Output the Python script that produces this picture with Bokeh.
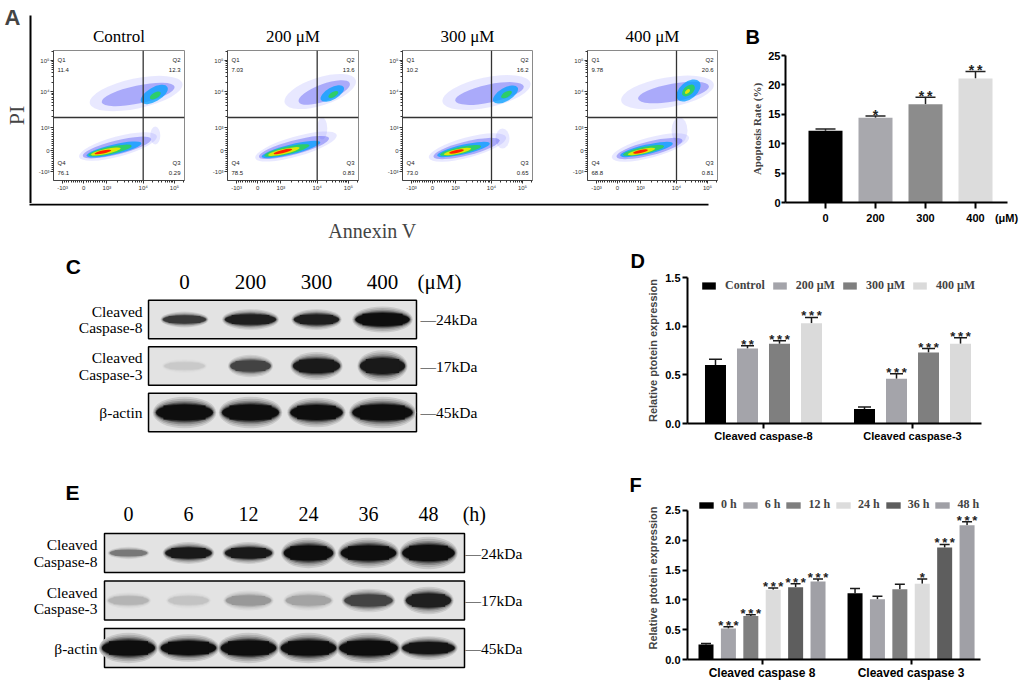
import math
from bokeh.plotting import figure
from bokeh.layouts import row, column
from bokeh.models import (Range1d, FixedTicker, Label, Legend, LegendItem,
                          ColumnDataSource, Whisker, TeeHead, Span, PrintfTickFormatter)
from bokeh.core.properties import value
from bokeh.embed import file_html
from bokeh.resources import INLINE

SERIF = "Liberation Serif"
SANS = "Liberation Sans"
THIN = "\u2009"

# ============================ DATA ============================
# A - flow cytometry, Annexin V / PI quadrant percentages
flow_titles = ["Control", "200 μM", "300 μM", "400 μM"]
flow_q1 = ["11.4", "7.03", "10.2", "9.78"]
flow_q2 = ["12.3", "13.6", "16.2", "20.6"]
flow_q3 = ["0.29", "0.83", "0.65", "0.81"]
flow_q4 = ["76.1", "78.5", "73.0", "68.8"]
flow_tick_labels = ["-10³", "0", "10³", "10⁴", "10⁵"]
flow_tick_disp = [9, 30, 53, 89, 120]          # biexponential display units (0..130)
flow_gate_x = 89
flow_gate_y = 63
# density clouds: (cx, cy, length, thickness, angle, density level)
flow_clouds_ctrl = [
    (64, 34, 80, 20, 15, 0), (63, 33, 70, 14, 14, 1), (60, 31, 56, 10, 13, 2),
    (56, 30, 44, 7.5, 12, 3), (52, 29, 30, 5, 12, 4), (49, 28.5, 17, 3.2, 12, 5),
    (82, 87, 94, 30, 12, 0), (84, 86, 74, 18, 12, 1), (100, 86, 30, 14, 30, 2),
    (101, 85, 12, 6, 30, 3), (101, 45, 10, 18, 0, 0)]
flow_clouds_200 = [
    (68, 34, 84, 20, 16, 0), (66, 33, 72, 14, 15, 1), (63, 31, 60, 10, 14, 2),
    (59, 30, 46, 7.5, 13, 3), (56, 29, 32, 5, 13, 4), (55, 29, 19, 3.2, 13, 5),
    (92, 89, 74, 28, 18, 0), (96, 88, 54, 17, 20, 1), (104, 87, 26, 12, 30, 2),
    (105, 86, 11, 5, 30, 3), (94, 52, 10, 22, 0, 0)]
flow_clouds_300 = [
    (65, 33, 80, 20, 15, 0), (64, 32, 68, 14, 14, 1), (61, 31, 54, 9.5, 13, 2),
    (58, 30, 42, 7, 12, 3), (55, 29, 28, 4.8, 12, 4), (54, 29, 15, 3, 12, 5),
    (84, 88, 90, 30, 12, 0), (87, 87, 70, 18, 12, 1), (103, 86, 28, 13, 30, 2),
    (104, 86, 12, 5.5, 30, 3), (100, 42, 14, 20, 0, 0)]
flow_clouds_400 = [
    (63, 33, 80, 20, 15, 0), (62, 32, 68, 14, 14, 1), (59, 31, 54, 9.5, 13, 2),
    (56, 30, 42, 7, 12, 3), (54, 29, 28, 4.8, 12, 4), (53, 29, 15, 3, 12, 5),
    (80, 88, 94, 30, 10, 0), (86, 88, 72, 18, 10, 1), (101, 90, 28, 17, 40, 2),
    (101, 90, 15, 9, 40, 3), (100, 89, 6, 3.5, 40, 4), (92, 50, 16, 26, 0, 0)]
flow_clouds = [flow_clouds_ctrl, flow_clouds_200, flow_clouds_300, flow_clouds_400]
density_colors = ["#7070ff", "#2828f0", "#00a0ff", "#2ed25a", "#e8e800", "#ff2000"]
density_alpha = [0.16, 0.32, 0.75, 0.90, 0.95, 1.0]

# B - apoptosis rate
b_cats = ["0", "200", "300", "400"]
b_unit = "(μM)"
b_mean = [12.2, 14.4, 16.7, 21.1]
b_upper = [12.5, 14.7, 17.9, 22.3]
b_stars = ["", "*", "**", "**"]
b_colors = ["#000000", "#a8a8ad", "#8c8c8c", "#dcdcdc"]

# C - western blot (dose)
c_lanes = ["0", "200", "300", "400"]
c_unit = "(μM)"
c_rows = ["Cleaved\nCaspase-8", "Cleaved\nCaspase-3", "β-actin"]
c_kda = ["—24kDa", "—17kDa", "—45kDa"]
c_intensity = [[0.80, 0.92, 0.92, 1.0], [0.12, 0.75, 0.95, 0.95], [1.0, 1.0, 1.0, 1.0]]
c_band_w = [[0.65, 0.77, 0.68, 0.82], [0.61, 0.61, 0.71, 0.68], [0.86, 0.86, 0.79, 0.91]]
c_band_h = [[0.17, 0.22, 0.22, 0.28], [0.15, 0.24, 0.30, 0.34], [0.34, 0.34, 0.32, 0.34]]

# D - relative protein expression (dose)
d_groups = ["Cleaved caspase-8", "Cleaved caspase-3"]
d_series = ["Control", "200 μM", "300 μM", "400 μM"]
d_casp8 = [0.60, 0.77, 0.82, 1.03]
d_casp8_up = [0.66, 0.80, 0.85, 1.09]
d_casp3 = [0.15, 0.46, 0.73, 0.82]
d_casp3_up = [0.17, 0.51, 0.77, 0.88]
d_stars8 = ["", "**", "***", "***"]
d_stars3 = ["", "***", "***", "***"]
d_colors = ["#000000", "#a4a4aa", "#7f7f7f", "#dadada"]

# E - western blot (time)
e_lanes = ["0", "6", "12", "24", "36", "48"]
e_unit = "(h)"
e_rows = ["Cleaved\nCaspase-8", "Cleaved\nCaspase-3", "β-actin"]
e_kda = ["—24kDa", "—17kDa", "—45kDa"]
e_intensity = [[0.50, 0.95, 0.95, 1.0, 1.0, 1.0],
               [0.22, 0.15, 0.35, 0.30, 0.75, 0.92],
               [1.0, 1.0, 1.0, 1.0, 1.0, 0.97]]
e_band_w = [[0.62, 0.77, 0.78, 0.82, 0.92, 0.87],
            [0.67, 0.67, 0.75, 0.75, 0.80, 0.75],
            [0.88, 0.92, 0.92, 0.92, 0.97, 0.87]]
e_band_h = [[0.13, 0.23, 0.23, 0.32, 0.32, 0.34],
            [0.17, 0.17, 0.21, 0.21, 0.25, 0.29],
            [0.32, 0.29, 0.32, 0.32, 0.32, 0.25]]

# F - relative protein expression (time)
f_groups = ["Cleaved caspase 8", "Cleaved caspase 3"]
f_series = ["0 h", "6 h", "12 h", "24 h", "36 h", "48 h"]
f_casp8 = [0.25, 0.52, 0.73, 1.17, 1.21, 1.31]
f_casp8_up = [0.27, 0.55, 0.75, 1.20, 1.27, 1.35]
f_casp3 = [1.11, 1.01, 1.18, 1.27, 1.88, 2.25]
f_casp3_up = [1.19, 1.06, 1.26, 1.35, 1.93, 2.31]
f_stars8 = ["", "***", "***", "***", "***", "***"]
f_stars3 = ["", "", "", "*", "***", "***"]
f_colors = ["#000000", "#a4a4aa", "#7f7f7f", "#dcdcdc", "#5e5e5e", "#a0a0a6"]


# ============================ HELPERS ============================
def make_fig(**kw):
    return figure(title=None, toolbar_location=None, output_backend="svg",
                  frame_align=False, **kw)


def blank_fig(width, height, xr=None, yr=None):
    if xr is None:
        xr = Range1d(0, width)
    if yr is None:
        yr = Range1d(0, height)
    p = make_fig(width=width, height=height, x_range=xr, y_range=yr, min_border=0,
                 x_axis_location=None, y_axis_location=None)
    p.outline_line_color = None
    p.grid.visible = False
    return p


def letter_label(x, y, text, size="21px"):
    return Label(x=x, y=y, text=text, text_align="left", text_baseline="middle",
                 text_font=SANS, text_font_style="bold", text_font_size=size,
                 text_color="black")


def grey_hex(I, base=227, dark=14):
    v = int(round(base - (base - dark) * I))
    return "#%02x%02x%02x" % (v, v, v)


def style_bar_axes(p, tick_size):
    for ax in (p.xaxis[0], p.yaxis[0]):
        ax.axis_line_width = 2
        ax.axis_line_color = "black"
        ax.major_tick_line_width = 2
        ax.major_tick_line_color = "black"
        ax.major_tick_in = 0
        ax.minor_tick_line_color = None
        ax.major_label_text_font = SANS
        ax.major_label_text_font_style = "bold"
        ax.major_label_text_font_size = tick_size
        ax.major_label_text_color = "black"
    p.grid.visible = False
    p.outline_line_color = None


# ============================ PANEL A ============================
def flow_minor_ticks():
    t = []
    for v in range(-900, 0, 100):
        t.append(30 + v / 1000 * 21)
    for v in range(100, 1000, 100):
        t.append(30 + v / 1000 * 23)
    for m in range(2, 10):
        t.append(53 + 36 * math.log10(m))
    for m in range(2, 10):
        t.append(89 + 31 * math.log10(m))
    t.append(120 + 31 * math.log10(2))
    return t


FLOW_W = [174, 175, 185, 159]
FLOW_FRAME = [131, 131, 130, 130]
FLOW_L = 21
flow_figs = []
for i in range(4):
    W = FLOW_W[i]
    R = W - FLOW_L - FLOW_FRAME[i]
    p = make_fig(width=W, height=155, x_range=Range1d(0, 130), y_range=Range1d(0, 130),
                 min_border_left=FLOW_L, min_border_right=R, min_border_top=2, min_border_bottom=23)
    p.grid.visible = False
    p.outline_line_color = "#8a8a8a"
    p.outline_line_width = 1
    for ax in (p.xaxis[0], p.yaxis[0]):
        ax.ticker = FixedTicker(ticks=flow_tick_disp, minor_ticks=flow_minor_ticks())
        ax.major_label_overrides = {t: l for t, l in zip(flow_tick_disp, flow_tick_labels)}
        ax.axis_line_color = "#444444"
        ax.major_tick_line_color = "#333333"
        ax.minor_tick_line_color = "#333333"
        ax.major_tick_out = 3
        ax.major_tick_in = 0
        ax.minor_tick_out = 2
        ax.minor_tick_in = 0
        ax.major_label_text_font = SANS
        ax.major_label_text_font_size = "6px"
        ax.major_label_text_color = "#333333"
        ax.major_label_standoff = 1
    clouds = sorted(flow_clouds[i], key=lambda c: c[5])
    src = ColumnDataSource(dict(
        x=[c[0] for c in clouds], y=[c[1] for c in clouds],
        w=[c[2] for c in clouds], h=[c[3] for c in clouds], a=[c[4] for c in clouds],
        color=[density_colors[c[5]] for c in clouds], alpha=[density_alpha[c[5]] for c in clouds]))
    p.ellipse(x="x", y="y", width="w", height="h", angle="a", angle_units="deg",
              fill_color="color", fill_alpha="alpha", line_color=None, source=src)
    p.add_layout(Span(location=flow_gate_x, dimension="height", line_color="#333333", line_width=1.3))
    p.add_layout(Span(location=flow_gate_y, dimension="width", line_color="#333333", line_width=1.3))
    p.text(x=[4, 4, 4, 4], y=[121, 111, 18, 8],
           text=["Q1", flow_q1[i], "Q4", flow_q4[i]],
           text_align="left", text_baseline="middle", text_font=value(SANS),
           text_font_size="6px", text_color="#222222")
    p.text(x=[126, 126, 126, 126], y=[121, 111, 18, 8],
           text=["Q2", flow_q2[i], "Q3", flow_q3[i]],
           text_align="right", text_baseline="middle", text_font=value(SANS),
           text_font_size="6px", text_color="#222222")
    flow_figs.append(p)

# titles strip above the four dot plots (centred on each plot frame)
title_strip = blank_fig(sum(FLOW_W), 48)
x0 = 0
title_x = []
for i in range(4):
    title_x.append(x0 + FLOW_L + FLOW_FRAME[i] / 2)
    x0 += FLOW_W[i]
title_strip.text(x=title_x, y=[12] * 4, text=flow_titles, text_align="center",
                 text_baseline="middle", text_font=value(SERIF), text_font_size="17px",
                 text_color="black")

a_left = blank_fig(32, 203)
a_left.segment(x0=[30], y0=[0], x1=[30], y1=[188], line_width=2, line_color="black")
a_left.add_layout(Label(x=4, y=199, text="A", text_align="left", text_baseline="top",
                        text_font=SANS, text_font_style="bold", text_font_size="22px"))
a_left.add_layout(Label(x=16, y=88, text="PI", angle=math.pi / 2, text_align="center",
                        text_baseline="middle", text_font=SERIF, text_font_size="22px"))

a_bottom = blank_fig(32 + sum(FLOW_W), 40)
a_bottom.segment(x0=[29], y0=[39], x1=[708], y1=[39], line_width=2, line_color="black")
a_bottom.add_layout(Label(x=372, y=13, text="Annexin V", text_align="center",
                          text_baseline="middle", text_font=SERIF, text_font_size="20px"))

panel_a = column(row(a_left, column(title_strip, row(*flow_figs))), a_bottom)

# ============================ PANEL B ============================
b_top = blank_fig(295, 49)
b_top.add_layout(letter_label(20, 12.5, "B", "20px"))

pB = make_fig(width=295, height=194, x_range=Range1d(-0.8, 3.64), y_range=Range1d(0, 25),
              min_border_left=60, min_border_right=13, min_border_top=6, min_border_bottom=41)
style_bar_axes(pB, "11px")
b_x = list(range(len(b_cats)))
pB.vbar(x=b_x, top=b_mean, width=0.68, fill_color=b_colors, line_color=None)
pB.add_layout(Whisker(source=ColumnDataSource(dict(x=b_x, lo=b_mean, up=b_upper)),
                      base="x", lower="lo", upper="up", dimension="height",
                      line_color="#222222", line_width=1.5,
                      upper_head=TeeHead(size=20, line_color="#222222", line_width=1.5),
                      lower_head=None))
b_ppu = 147 / 25
pB.text(x=b_x, y=[u + 1.5 / b_ppu for u in b_upper], text=[THIN.join(s) for s in b_stars],
        text_align="center", text_baseline="alphabetic", text_font=value(SANS),
        text_font_style="bold", text_font_size="14px", text_color="#222222")
b_unit_pos = 3.62
pB.xaxis.ticker = FixedTicker(ticks=b_x + [b_unit_pos], minor_ticks=b_x)
pB.xaxis.major_label_overrides = {**{i: c for i, c in enumerate(b_cats)}, b_unit_pos: b_unit}
pB.xaxis.major_tick_line_color = None
pB.xaxis.major_tick_out = 6
pB.xaxis.minor_tick_line_color = "black"
pB.xaxis.minor_tick_line_width = 2
pB.xaxis.minor_tick_out = 6
pB.xaxis.minor_tick_in = 0
pB.xaxis.major_label_standoff = 3
pB.yaxis.ticker = FixedTicker(ticks=[0, 5, 10, 15, 20, 25])
pB.yaxis.major_tick_out = 4
pB.yaxis.major_label_standoff = 1
pB.yaxis.axis_label = "Apoptosis Rate (%)"
pB.yaxis.axis_label_text_font = SERIF
pB.yaxis.axis_label_text_font_style = "bold"
pB.yaxis.axis_label_text_font_size = "11px"
pB.yaxis.axis_label_standoff = 2

panel_b = column(b_top, pB)


# ============================ BLOTS ============================
def blot_panel(width, height, lane_px0, lane_dx, row_px0, row_dy, lanes, unit, row_names, kdas,
               inten, bw, bh, box_l, box_r, half, header_r, header_size, label_x, kda_x,
               unit_x, letter, letter_x, letter_r):
    xr = Range1d((0 - lane_px0) / lane_dx, (width - lane_px0) / lane_dx)
    yr = Range1d(start=(height - row_px0) / row_dy, end=(0 - row_px0) / row_dy)
    p = blank_fig(width, height, xr, yr)
    nl, nr = len(lanes), len(row_names)
    ridx = list(range(nr))
    p.quad(left=[box_l] * nr, right=[nl - 1 + box_r] * nr,
           top=[r - half for r in ridx], bottom=[r + half for r in ridx],
           fill_color="#e3e3e3", line_color="black", line_width=1.5)
    # soft band edges: concentric layers, lighter and larger outward
    layers = [(1.12, 2.00, 0.12), (1.09, 1.75, 0.25), (1.06, 1.50, 0.42),
              (1.03, 1.30, 0.62), (1.01, 1.15, 0.82)]
    for sw, sh, f in layers:
        xs, ys, ws, hs, cs = [], [], [], [], []
        for r in ridx:
            for i in range(nl):
                xs.append(i); ys.append(r)
                ws.append(bw[r][i] * sw); hs.append(bh[r][i] * sh)
                cs.append(grey_hex(f * inten[r][i]))
        p.ellipse(x=xs, y=ys, width=ws, height=hs, fill_color=cs, line_color=None)
    bx, by, bww, bhh, bc = [], [], [], [], []
    for r in ridx:
        for i in range(nl):
            bx.append(i); by.append(r); bww.append(bw[r][i]); bhh.append(bh[r][i])
            bc.append(grey_hex(inten[r][i]))
    p.ellipse(x=bx, y=by, width=bww, height=bhh, fill_color=bc, line_color=None)
    p.rect(x=bx, y=by, width=[w * 0.74 for w in bww], height=[h * 0.9 for h in bhh],
           fill_color=bc, line_color=None)
    p.text(x=list(range(nl)), y=[header_r] * nl, text=lanes, text_align="center",
           text_baseline="middle", text_font=value(SERIF), text_font_size=header_size,
           text_color="black")
    p.text(x=[unit_x], y=[header_r], text=[unit], text_align="left", text_baseline="middle",
           text_font=value(SERIF), text_font_size=header_size, text_color="black")
    p.text(x=[label_x] * nr, y=ridx, text=row_names, text_align="right", text_baseline="middle",
           text_font=value(SERIF), text_font_size="15.5px", text_line_height=0.95,
           text_color="black")
    p.text(x=[kda_x] * nr, y=ridx, text=kdas, text_align="left", text_baseline="middle",
           text_font=value(SERIF), text_font_size="15.5px", text_color="black")
    p.text(x=[letter_x], y=[letter_r], text=[letter], text_align="left", text_baseline="middle",
           text_font=value(SANS), text_font_style="bold", text_font_size="21px", text_color="black")
    return p


pC = blot_panel(628, 201, 184, 66, 76, 46.5, c_lanes, c_unit, c_rows, c_kda,
                c_intensity, c_band_w, c_band_h, -0.545, 0.515, 0.415, -0.796, "21px",
                -0.636, 3.576, 3.53, "C", -1.80, -1.15)
pE = blot_panel(628, 238, 128, 60, 108.5, 47.5, e_lanes, e_unit, e_rows, e_kda,
                e_intensity, e_band_w, e_band_h, -0.4, 0.6, 0.41, -0.83, "20px",
                -0.517, 5.617, 5.57, "E", -1.05, -1.27)


# ============================ GROUPED BARS ============================
def grouped_bars(p, v8, v3, u8, u3, s8, s3, colors, names, pitch, bw, cap, ppu_y, star_size):
    n = len(names)
    items = []
    for k in range(n):
        off = (k - (n - 1) / 2) * pitch
        xs = [0 + off, 1 + off]
        r = p.vbar(x=xs, top=[v8[k], v3[k]], width=bw, fill_color=colors[k], line_color=None)
        items.append(LegendItem(label=names[k], renderers=[r]))
        src = ColumnDataSource(dict(x=xs, lo=[v8[k], v3[k]], up=[u8[k], u3[k]]))
        p.add_layout(Whisker(source=src, base="x", lower="lo", upper="up", dimension="height",
                             line_color="#1a1a1a", line_width=1.5,
                             upper_head=TeeHead(size=cap, line_color="#1a1a1a", line_width=1.5),
                             lower_head=None))
        p.text(x=xs, y=[u8[k] + 1.5 / ppu_y, u3[k] + 1.5 / ppu_y],
               text=[THIN.join(s8[k]), THIN.join(s3[k])],
               text_align="center", text_baseline="alphabetic", text_font=value(SANS),
               text_font_style="bold", text_font_size=star_size, text_color="#222222")
    return items


def protein_axes(p, yticks, groups):
    style_bar_axes(p, "11px")
    p.yaxis.ticker = FixedTicker(ticks=yticks)
    p.yaxis.formatter = PrintfTickFormatter(format="%.1f")
    p.yaxis.bounds = (yticks[0], yticks[-1])
    p.yaxis.major_tick_out = 5
    p.yaxis.major_label_standoff = 2
    p.yaxis.axis_label = "Relative ptotein expression"
    p.yaxis.axis_label_text_font = SANS
    p.yaxis.axis_label_text_font_style = "bold"
    p.yaxis.axis_label_text_font_size = "11px"
    p.yaxis.axis_label_standoff = 3
    p.xaxis.ticker = FixedTicker(ticks=[0, 1])
    p.xaxis.major_label_overrides = {0: groups[0], 1: groups[1]}
    p.xaxis.major_tick_out = 5
    p.xaxis.major_label_standoff = 1


def legend_row(items, loc, gw, gh, standoff, spacing):
    return Legend(items=items, orientation="horizontal", location=loc,
                  glyph_width=gw, glyph_height=gh, label_standoff=standoff, spacing=spacing,
                  padding=0, margin=0, label_width=0, label_height=12,
                  label_text_font=SERIF, label_text_font_style="bold", label_text_font_size="12px",
                  border_line_color=None, background_fill_alpha=0)


# ---- D ----
d_top = blank_fig(392, 29)
d_top.add_layout(letter_label(2, 12, "D", "20px"))
pD = make_fig(width=392, height=172, x_range=Range1d(-0.51, 1.463), y_range=Range1d(0, 1.5),
              min_border_left=59, min_border_right=39, min_border_top=5, min_border_bottom=20)
protein_axes(pD, [0, 0.5, 1.0, 1.5], d_groups)
d_items = grouped_bars(pD, d_casp8, d_casp3, d_casp8_up, d_casp3_up, d_stars8, d_stars3,
                       d_colors, d_series, 32 / 149, 21 / 149, 13, 147 / 1.5, "13px")
pD.add_layout(legend_row(d_items, (13, 130), 17, 9, 8, 6))
panel_d = column(d_top, pD)

# ---- F ----
f_top = blank_fig(392, 52)
f_top.add_layout(letter_label(1, 12, "F", "20px"))
pF = make_fig(width=392, height=186, x_range=Range1d(-0.5, 1.466), y_range=Range1d(0, 2.5 + 14 / 60),
              min_border_left=59, min_border_right=40, min_border_top=0, min_border_bottom=22)
protein_axes(pF, [0, 0.5, 1.0, 1.5, 2.0, 2.5], f_groups)
pF.xaxis.major_label_text_font_size = "12px"
f_items = grouped_bars(pF, f_casp8, f_casp3, f_casp8_up, f_casp3_up, f_stars8, f_stars3,
                       f_colors, f_series, 22.4 / 149, 15 / 149, 10, 60, "13px")
pF.add_layout(legend_row(f_items, (10, 147), 18, 8, 6, 4))
panel_f = column(f_top, pF)

# ============================ LAYOUT ============================
layout = column(row(panel_a, panel_b), row(pC, panel_d), row(pE, panel_f))
open("out.html", "w").write(file_html(layout, INLINE))
